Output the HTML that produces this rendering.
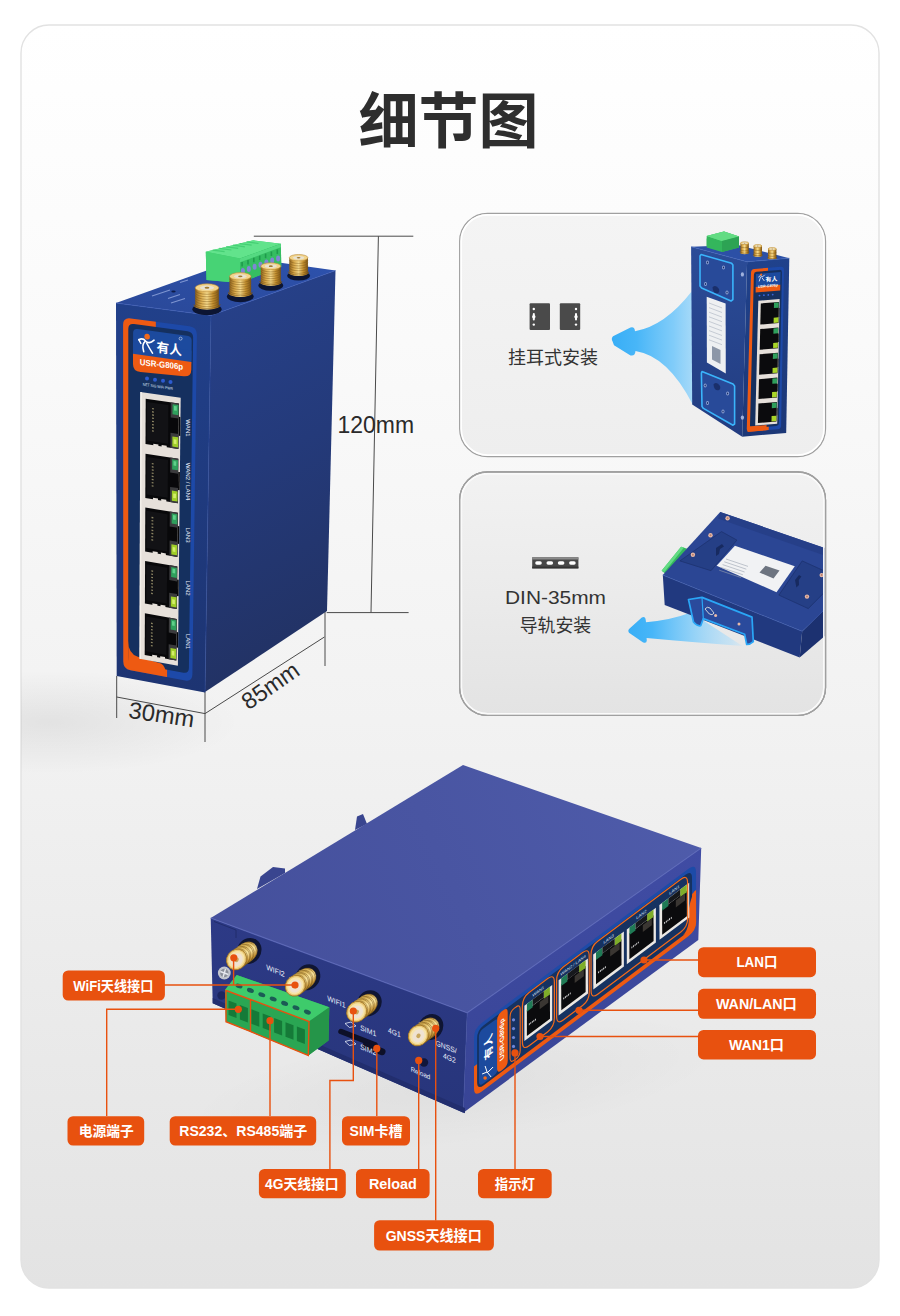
<!DOCTYPE html>
<html><head><meta charset="utf-8"><title>detail</title>
<style>
html,body{margin:0;padding:0;background:#fff;}
body{width:900px;height:1316px;overflow:hidden;font-family:"Liberation Sans","Noto Sans CJK SC",sans-serif;}
svg{display:block}
text{font-family:"Liberation Sans","Noto Sans CJK SC",sans-serif;}
</style></head><body>
<svg width="900" height="1316" viewBox="0 0 900 1316">
<defs>
<linearGradient id="bgm" x1="0" y1="0" x2="0" y2="1">
<stop offset="0" stop-color="#ffffff"/><stop offset=".25" stop-color="#fafafa"/><stop offset=".55" stop-color="#f2f2f2"/><stop offset="1" stop-color="#e3e3e3"/></linearGradient>
<radialGradient id="shd" cx="0.5" cy="0.5" r="0.5"><stop offset="0" stop-color="#000" stop-opacity=".065"/><stop offset="1" stop-color="#000" stop-opacity="0"/></radialGradient>
<linearGradient id="p1" x1="0" y1="0" x2="0" y2="1"><stop offset="0" stop-color="#f4f4f4"/><stop offset="1" stop-color="#eeeeee"/></linearGradient>
<linearGradient id="p2" x1="0" y1="0" x2="0" y2="1"><stop offset="0" stop-color="#f2f2f2"/><stop offset=".5" stop-color="#ebebeb"/><stop offset="1" stop-color="#e3e3e3"/></linearGradient>
</defs>
<rect x="0" y="0" width="900" height="1316" fill="#fff"/>
<rect x="21" y="25" width="858" height="1263" rx="28" fill="url(#bgm)" stroke="#e2e2e2" stroke-width="1.4"/>
<clipPath id="cpm"><rect x="21" y="25" width="858" height="1263" rx="28"/></clipPath>
<g clip-path="url(#cpm)"><ellipse cx="50" cy="722" rx="190" ry="52" fill="url(#shd)"/></g>
<text id="title" x="448.5" y="143" text-anchor="middle" font-size="60" font-weight="bold" fill="#2e2e2e" textLength="180" lengthAdjust="spacing">细节图</text>
<rect x="459.7" y="213.3" width="365.8" height="243.4" rx="28" fill="url(#p1)" stroke="#a0a0a0" stroke-width="1.3"/>
<rect x="461.2" y="214.8" width="362.8" height="240.4" rx="26.5" fill="none" stroke="#fff" stroke-width="1.7" stroke-opacity="1"/>
<rect x="459.7" y="472" width="365.8" height="243.4" rx="28" fill="url(#p2)" stroke="#a0a0a0" stroke-width="1.3"/>
<rect x="461.2" y="473.5" width="362.8" height="240.4" rx="26.5" fill="none" stroke="#fff" stroke-width="1.7" stroke-opacity="1"/>
<defs>
<linearGradient id="mside" x1="0" y1="0" x2="0.15" y2="1"><stop offset="0" stop-color="#27428c"/><stop offset=".5" stop-color="#243a7a"/><stop offset="1" stop-color="#223264"/></linearGradient>
<linearGradient id="mfront" x1="0" y1="0" x2="0" y2="1"><stop offset="0" stop-color="#21408a"/><stop offset="1" stop-color="#1d3472"/></linearGradient>
<linearGradient id="mtop" x1="0" y1="1" x2="1" y2="0"><stop offset="0" stop-color="#2a4897"/><stop offset="1" stop-color="#2d52ae"/></linearGradient>
</defs>
<path d="M253.8 236.2H413.3M378.4 236.2L371 612.6M326.7 612.6H408.6" stroke="#4a4a4a" stroke-width="1" fill="none"/>
<path d="M116.7 676V718M205 692V742M325 611V666M116.7 697L205 713.6L324.4 637" stroke="#4a4a4a" stroke-width="1" fill="none"/>
<polygon points="116.0,303.0 211.0,315.5 335.5,270.5 243.0,257.5" fill="url(#mtop)" />
<polygon points="211.0,315.5 335.5,270.5 327.0,611.0 205.0,692.0" fill="url(#mside)" />
<polygon points="116.0,303.0 211.0,315.5 205.0,692.5 116.7,676.0" fill="url(#mfront)" />
<path d="M116 303L211 315.5L335.5 270.5" stroke="#3a5bb8" stroke-width="1" fill="none" stroke-opacity=".7"/>
<path d="M211 315.5L205 692.5" stroke="#2c4a9c" stroke-width="1" fill="none" stroke-opacity=".6"/>
<polygon points="205.8,251.7 253.3,240.3 280.8,243.7 281.3,266.7 240.0,283.0 206.5,280.0" fill="#3cc96a" />
<polygon points="205.8,251.7 253.3,240.3 280.8,243.7 240.0,258.5" fill="#62e38c" />
<polygon points="205.8,251.7 240.0,258.5 240.0,283.0 206.5,280.0" fill="#47d375" />
<polygon points="240.0,258.5 280.8,243.7 281.3,266.7 240.0,283.0" fill="#35bd62" />
<polygon points="240.0,258.5 280.8,243.7 280.9,247.2 240.0,262.3" fill="#55d982" />
<path d="M242.1 262.0l0 4.5" stroke="#1f9a4c" stroke-width="1.6"/>
<ellipse cx="242.9" cy="271.0" rx="2" ry="3" fill="#7f86d4"/>
<path d="M248.0 259.9l0 4.5" stroke="#1f9a4c" stroke-width="1.6"/>
<ellipse cx="248.8" cy="268.9" rx="2" ry="3" fill="#7f86d4"/>
<path d="M253.8 257.8l0 4.5" stroke="#1f9a4c" stroke-width="1.6"/>
<ellipse cx="254.6" cy="266.8" rx="2" ry="3" fill="#7f86d4"/>
<path d="M259.7 255.7l0 4.5" stroke="#1f9a4c" stroke-width="1.6"/>
<ellipse cx="260.5" cy="264.7" rx="2" ry="3" fill="#7f86d4"/>
<path d="M265.6 253.6l0 4.5" stroke="#1f9a4c" stroke-width="1.6"/>
<ellipse cx="266.4" cy="262.6" rx="2" ry="3" fill="#7f86d4"/>
<path d="M271.4 251.5l0 4.5" stroke="#1f9a4c" stroke-width="1.6"/>
<ellipse cx="272.2" cy="260.5" rx="2" ry="3" fill="#7f86d4"/>
<path d="M277.3 249.4l0 4.5" stroke="#1f9a4c" stroke-width="1.6"/>
<ellipse cx="278.1" cy="258.4" rx="2" ry="3" fill="#7f86d4"/>
<path d="M212.6 250.1l12 1.6" stroke="#45cf74" stroke-width="1.2"/>
<path d="M219.4 248.4l12 1.6" stroke="#45cf74" stroke-width="1.2"/>
<path d="M226.2 246.8l12 1.6" stroke="#45cf74" stroke-width="1.2"/>
<path d="M232.9 245.2l12 1.6" stroke="#45cf74" stroke-width="1.2"/>
<path d="M239.7 243.6l12 1.6" stroke="#45cf74" stroke-width="1.2"/>
<path d="M246.5 241.9l12 1.6" stroke="#45cf74" stroke-width="1.2"/>
<path d="M152 296l18 -6M171 303l14 -4.5M168 298.5l12 -4M180 282.5l8 -2.5" stroke="#9fb2e6" stroke-width="1.3" stroke-opacity=".7"/>
<ellipse cx="173.5" cy="291.5" rx="2.2" ry="1.1" fill="#0e1c48"/>
<path d="M130.7 318.4L189.5 326.2Q197.0 327.2 196.9 334.8L192.4 674.3Q192.3 681.8 185.2 680.5L130.4 670.3Q123.3 669.0 123.3 661.6L123.1 324.8Q123.1 317.4 130.7 318.4Z" fill="#1d49a8"/>
<clipPath id="oc"><polygon points="116.0,303.0 155.9,308.2 155.8,334.5 129.3,330.9 129.1,652.2 167.2,659.1 167.0,685.4 116.7,676.0"/></clipPath>
<path d="M130.7 318.4L189.5 326.2Q197.0 327.2 196.9 334.8L192.4 674.3Q192.3 681.8 185.2 680.5L130.4 670.3Q123.3 669.0 123.3 661.6L123.1 324.8Q123.1 317.4 130.7 318.4Z" fill="#ee5a12" clip-path="url(#oc)"/>
<path d="M134.0 324.1L187.5 331.2Q193.2 332.0 193.1 337.6L188.9 668.0Q188.9 673.6 183.5 672.7L133.5 663.4Q128.2 662.5 128.2 656.9L128.3 328.9Q128.3 323.3 134.0 324.1Z" fill="#15305f"/>
<path d="M128.2 640.8Q128.2 653.9 137.9 656.8L161.0 663.6Q165.9 666.4 166.2 675.9L128.2 668.8Z" fill="#ee5a12"/>
<path d="M137.8 329.1L187.0 335.7Q191.7 336.3 191.7 340.8L191.4 359.3Q191.4 363.8 186.7 363.1L137.7 356.4Q133.0 355.7 133.0 351.2L133.1 332.9Q133.1 328.4 137.8 329.1Z" fill="#1c4a9e"/>
<polygon points="133.0,342.6 191.5,350.6 191.4,363.8 133.0,355.7" fill="#1c4a9e" />
<path d="M133.0 353.8L191.4 361.9L191.3 369.4Q191.2 377.0 183.7 376.3L140.5 372.1Q133.0 371.4 133.0 364.3Z" fill="#ee5a12"/>
<text transform="matrix(1 0.14 0 1 156.6 351.8)" x="0" y="0" font-size="13" font-weight="bold" fill="#fff" textLength="25.4" lengthAdjust="spacingAndGlyphs">有人</text>
<circle cx="180.6" cy="338.6" r="1.5" fill="none" stroke="#fff" stroke-width=".5"/>
<g transform="matrix(1.22 0.17 0 1.25 137.6 332.6)" fill="none" stroke="#fff" stroke-width="1.3" stroke-linecap="round" stroke-linejoin="round"><circle cx="7.8" cy="2.2" r="2.3" fill="#f26a1b" stroke="none"/><path d="M1 5.5Q4.5 3.5 6.5 5.8Q9 8.5 13.5 4.2"/><path d="M6.2 6.2Q3.2 9 5 14.5"/><path d="M7.5 7.5Q9.5 11 12.2 14.8"/><path d="M1 5.5L2.6 8.2"/></g>
<text transform="matrix(1 0.11 0 1 139.3 365.0)" x="0.5" y="0" font-size="8.7" font-weight="bold" fill="#fff" textLength="43.3" lengthAdjust="spacingAndGlyphs">USR-G806p</text>
<circle cx="147" cy="378.6" r="2" fill="#2d5bd0"/>
<circle cx="155" cy="379.7" r="2" fill="#2d5bd0"/>
<circle cx="163" cy="380.8" r="2" fill="#2d5bd0"/>
<circle cx="170.5" cy="381.9" r="2" fill="#2d5bd0"/>
<text transform="matrix(1 0.15 0 1 142.3 385.6)" x="0.4" y="0" font-size="4" fill="#dfe6f7" textLength="30.3" lengthAdjust="spacingAndGlyphs">NET SIG WiFi PWR</text>
<polygon points="140.3,391.9 180.7,397.7 177.9,665.8 139.5,658.8" fill="#e6e0da" />
<polygon points="140.3,391.9 141.9,392.1 141.0,659.0 139.5,658.8" fill="#f4f0ea" />
<polygon points="145.7,398.8 178.9,403.6 178.4,449.0 145.5,444.0" fill="#08080a" />
<polygon points="178.8,416.7 180.4,417.0 180.3,436.1 178.6,435.8" fill="#08080a" />
<polygon points="147.0,402.0 168.4,405.1 168.1,443.7 146.8,440.5" fill="#121215" />
<polygon points="152.1,408.0 153.9,408.2 153.9,409.5 152.1,409.3" fill="#8b8463" />
<polygon points="152.1,411.1 153.9,411.4 153.9,412.7 152.0,412.5" fill="#8b8463" />
<polygon points="152.0,414.3 153.9,414.6 153.9,415.9 152.0,415.6" fill="#8b8463" />
<polygon points="152.0,417.5 153.9,417.8 153.9,419.1 152.0,418.8" fill="#8b8463" />
<polygon points="152.0,420.7 153.9,421.0 153.9,422.3 152.0,422.0" fill="#8b8463" />
<polygon points="152.0,423.9 153.9,424.2 153.8,425.5 152.0,425.2" fill="#8b8463" />
<polygon points="152.0,427.1 153.8,427.3 153.8,428.7 152.0,428.4" fill="#8b8463" />
<polygon points="152.0,430.2 153.8,430.5 153.8,431.8 152.0,431.6" fill="#8b8463" />
<polygon points="170.8,402.4 178.9,403.6 178.8,418.6 170.7,417.4" fill="#3b3b3d" />
<polygon points="170.5,432.7 178.6,433.9 178.4,449.0 170.4,447.8" fill="#3b3b3d" />
<polygon points="172.6,404.2 178.5,405.0 178.4,415.2 172.5,414.3" fill="#2f9f5c" />
<polygon points="174.0,405.9 176.8,406.3 176.8,410.8 174.0,410.4" fill="#5fd08a" />
<polygon points="172.4,436.4 178.2,437.3 178.1,447.4 172.3,446.5" fill="#9fce28" />
<polygon points="173.7,439.2 176.5,439.7 176.5,444.2 173.7,443.7" fill="#d3ee6a" />
<polygon points="153.3,443.7 158.4,444.4 158.4,447.4 153.3,446.7" fill="#e6e0da" />
<polygon points="161.6,444.9 166.7,445.7 166.7,448.7 161.6,447.9" fill="#e6e0da" />
<polygon points="145.5,453.7 178.3,458.7 177.9,503.2 145.3,498.0" fill="#08080a" />
<polygon points="178.2,471.9 179.9,472.1 179.7,490.3 178.0,490.0" fill="#08080a" />
<polygon points="146.7,456.9 168.0,460.1 167.7,497.8 146.6,494.4" fill="#121215" />
<polygon points="151.8,462.9 153.6,463.2 153.6,464.5 151.8,464.2" fill="#8b8463" />
<polygon points="151.8,466.1 153.6,466.4 153.6,467.7 151.8,467.4" fill="#8b8463" />
<polygon points="151.8,469.3 153.6,469.6 153.6,470.9 151.8,470.6" fill="#8b8463" />
<polygon points="151.7,472.5 153.6,472.7 153.6,474.1 151.7,473.8" fill="#8b8463" />
<polygon points="151.7,475.6 153.6,475.9 153.6,477.2 151.7,477.0" fill="#8b8463" />
<polygon points="151.7,478.8 153.6,479.1 153.5,480.4 151.7,480.1" fill="#8b8463" />
<polygon points="151.7,482.0 153.5,482.3 153.5,483.6 151.7,483.3" fill="#8b8463" />
<polygon points="151.7,485.2 153.5,485.5 153.5,486.8 151.7,486.5" fill="#8b8463" />
<polygon points="170.3,457.5 178.3,458.7 178.2,473.7 170.2,472.5" fill="#3b3b3d" />
<polygon points="170.1,486.9 178.1,488.1 177.9,503.2 169.9,501.9" fill="#3b3b3d" />
<polygon points="172.1,459.3 178.0,460.2 177.9,470.3 172.1,469.4" fill="#2f9f5c" />
<polygon points="173.5,461.0 176.3,461.4 176.2,465.9 173.5,465.5" fill="#5fd08a" />
<polygon points="171.9,490.5 177.6,491.4 177.5,501.6 171.8,500.7" fill="#9fce28" />
<polygon points="173.2,493.4 176.0,493.8 175.9,498.3 173.2,497.9" fill="#d3ee6a" />
<polygon points="153.0,497.7 158.0,498.5 158.0,501.5 153.0,500.7" fill="#e6e0da" />
<polygon points="161.2,499.0 166.3,499.8 166.3,502.8 161.2,502.0" fill="#e6e0da" />
<polygon points="145.3,507.6 177.8,512.8 177.4,556.9 145.1,551.5" fill="#08080a" />
<polygon points="177.7,526.0 179.3,526.2 179.1,544.0 177.5,543.7" fill="#08080a" />
<polygon points="146.5,510.8 167.5,514.2 167.2,551.4 146.4,548.0" fill="#121215" />
<polygon points="151.5,516.8 153.4,517.1 153.3,518.4 151.5,518.2" fill="#8b8463" />
<polygon points="151.5,520.0 153.3,520.3 153.3,521.6 151.5,521.3" fill="#8b8463" />
<polygon points="151.5,523.2 153.3,523.5 153.3,524.8 151.5,524.5" fill="#8b8463" />
<polygon points="151.5,526.4 153.3,526.7 153.3,528.0 151.5,527.7" fill="#8b8463" />
<polygon points="151.5,529.6 153.3,529.9 153.3,531.2 151.5,530.9" fill="#8b8463" />
<polygon points="151.4,532.8 153.3,533.1 153.3,534.4 151.4,534.1" fill="#8b8463" />
<polygon points="151.4,535.9 153.2,536.2 153.2,537.6 151.4,537.3" fill="#8b8463" />
<polygon points="151.4,539.1 153.2,539.4 153.2,540.7 151.4,540.4" fill="#8b8463" />
<polygon points="169.8,511.5 177.8,512.8 177.6,527.8 169.7,526.5" fill="#3b3b3d" />
<polygon points="169.6,540.5 177.5,541.8 177.4,556.9 169.5,555.6" fill="#3b3b3d" />
<polygon points="171.7,513.3 177.4,514.3 177.3,524.4 171.6,523.5" fill="#2f9f5c" />
<polygon points="173.0,515.0 175.8,515.5 175.7,520.0 173.0,519.6" fill="#5fd08a" />
<polygon points="171.4,544.2 177.1,545.2 177.0,555.3 171.3,554.4" fill="#9fce28" />
<polygon points="172.7,547.1 175.4,547.5 175.4,552.0 172.7,551.6" fill="#d3ee6a" />
<polygon points="152.7,551.3 157.7,552.1 157.7,555.1 152.7,554.3" fill="#e6e0da" />
<polygon points="160.9,552.6 165.9,553.5 165.8,556.5 160.9,555.6" fill="#e6e0da" />
<polygon points="145.1,561.0 177.3,566.4 176.8,609.1 144.9,603.5" fill="#08080a" />
<polygon points="177.1,579.6 178.7,579.8 178.6,596.2 177.0,595.9" fill="#08080a" />
<polygon points="146.3,564.2 167.1,567.7 166.8,603.6 146.2,600.0" fill="#121215" />
<polygon points="151.3,570.3 153.1,570.6 153.1,571.9 151.3,571.6" fill="#8b8463" />
<polygon points="151.2,573.5 153.0,573.8 153.0,575.1 151.2,574.8" fill="#8b8463" />
<polygon points="151.2,576.7 153.0,577.0 153.0,578.3 151.2,578.0" fill="#8b8463" />
<polygon points="151.2,579.8 153.0,580.1 153.0,581.5 151.2,581.2" fill="#8b8463" />
<polygon points="151.2,583.0 153.0,583.3 153.0,584.6 151.2,584.3" fill="#8b8463" />
<polygon points="151.2,586.2 153.0,586.5 153.0,587.8 151.2,587.5" fill="#8b8463" />
<polygon points="151.2,589.4 153.0,589.7 153.0,591.0 151.2,590.7" fill="#8b8463" />
<polygon points="151.1,592.6 152.9,592.9 152.9,594.2 151.1,593.9" fill="#8b8463" />
<polygon points="169.4,565.1 177.3,566.4 177.1,581.4 169.3,580.1" fill="#3b3b3d" />
<polygon points="169.2,592.7 177.0,594.0 176.8,609.1 169.0,607.7" fill="#3b3b3d" />
<polygon points="171.2,566.9 176.9,567.9 176.8,578.0 171.1,577.0" fill="#2f9f5c" />
<polygon points="172.5,568.6 175.2,569.1 175.2,573.6 172.5,573.1" fill="#5fd08a" />
<polygon points="170.9,596.4 176.6,597.3 176.5,607.5 170.8,606.5" fill="#9fce28" />
<polygon points="172.2,599.2 174.9,599.7 174.9,604.2 172.2,603.7" fill="#d3ee6a" />
<polygon points="152.4,603.3 157.4,604.2 157.4,607.2 152.4,606.3" fill="#e6e0da" />
<polygon points="160.5,604.7 165.4,605.6 165.4,608.6 160.5,607.7" fill="#e6e0da" />
<polygon points="144.9,613.3 176.7,618.9 176.3,660.6 144.7,654.9" fill="#08080a" />
<polygon points="176.6,632.0 178.2,632.3 178.0,647.8 176.4,647.5" fill="#08080a" />
<polygon points="146.1,616.5 166.7,620.1 166.4,655.1 146.0,651.3" fill="#121215" />
<polygon points="151.0,622.6 152.8,622.9 152.8,624.2 151.0,623.9" fill="#8b8463" />
<polygon points="151.0,625.8 152.8,626.1 152.8,627.4 151.0,627.1" fill="#8b8463" />
<polygon points="151.0,629.0 152.7,629.3 152.7,630.6 151.0,630.3" fill="#8b8463" />
<polygon points="150.9,632.2 152.7,632.5 152.7,633.8 150.9,633.5" fill="#8b8463" />
<polygon points="150.9,635.3 152.7,635.7 152.7,637.0 150.9,636.7" fill="#8b8463" />
<polygon points="150.9,638.5 152.7,638.9 152.7,640.2 150.9,639.8" fill="#8b8463" />
<polygon points="150.9,641.7 152.7,642.0 152.7,643.3 150.9,643.0" fill="#8b8463" />
<polygon points="150.9,644.9 152.7,645.2 152.7,646.5 150.9,646.2" fill="#8b8463" />
<polygon points="168.9,617.5 176.7,618.9 176.6,633.9 168.8,632.5" fill="#3b3b3d" />
<polygon points="168.7,644.2 176.5,645.6 176.3,660.6 168.6,659.2" fill="#3b3b3d" />
<polygon points="170.7,619.3 176.4,620.3 176.3,630.5 170.6,629.5" fill="#2f9f5c" />
<polygon points="172.0,621.1 174.7,621.6 174.7,626.1 172.0,625.6" fill="#5fd08a" />
<polygon points="170.5,647.9 176.1,648.9 176.0,659.1 170.4,658.1" fill="#9fce28" />
<polygon points="171.8,650.8 174.4,651.3 174.4,655.8 171.7,655.3" fill="#d3ee6a" />
<polygon points="152.2,654.7 157.1,655.6 157.0,658.6 152.2,657.7" fill="#e6e0da" />
<polygon points="160.2,656.2 165.0,657.1 165.0,660.1 160.1,659.2" fill="#e6e0da" />
<text transform="translate(185.8 428) rotate(90)" x="0" y="0" text-anchor="middle" font-size="6.1" fill="#e6ebf8">WAN1</text>
<text transform="translate(185.8 481.5) rotate(90)" x="0" y="0" text-anchor="middle" font-size="6.1" fill="#e6ebf8">WAN2 / LAN4</text>
<text transform="translate(185.8 535) rotate(90)" x="0" y="0" text-anchor="middle" font-size="6.1" fill="#e6ebf8">LAN3</text>
<text transform="translate(185.8 588) rotate(90)" x="0" y="0" text-anchor="middle" font-size="6.1" fill="#e6ebf8">LAN2</text>
<text transform="translate(185.8 641.5) rotate(90)" x="0" y="0" text-anchor="middle" font-size="6.1" fill="#e6ebf8">LAN1</text>
<ellipse cx="298.6" cy="275.8" rx="11.5" ry="4.8" fill="#0c1533"/><linearGradient id="g164" x1="0" x2="1" y1="0" y2="0"><stop offset="0" stop-color="#8a5f1c"/><stop offset=".25" stop-color="#d9a94a"/><stop offset=".5" stop-color="#f7dc8e"/><stop offset=".75" stop-color="#c4902f"/><stop offset="1" stop-color="#7a5214"/></linearGradient><path d="M289.3 257.7V272.6A9.3 3.2 0 0 0 307.9 272.6V257.7Z" fill="url(#g164)"/><path d="M289.3 260.2A9.3 3.2 0 0 0 307.9 260.2" stroke="#7a5518" stroke-opacity=".55" stroke-width=".8" fill="none"/><path d="M289.3 262.7A9.3 3.2 0 0 0 307.9 262.7" stroke="#7a5518" stroke-opacity=".55" stroke-width=".8" fill="none"/><path d="M289.3 265.1A9.3 3.2 0 0 0 307.9 265.1" stroke="#7a5518" stroke-opacity=".55" stroke-width=".8" fill="none"/><path d="M289.3 267.6A9.3 3.2 0 0 0 307.9 267.6" stroke="#7a5518" stroke-opacity=".55" stroke-width=".8" fill="none"/><path d="M289.3 270.1A9.3 3.2 0 0 0 307.9 270.1" stroke="#7a5518" stroke-opacity=".55" stroke-width=".8" fill="none"/><path d="M288.2 271.5V272.6A10.4 3.5 0 0 0 309.0 272.6V271.5A10.4 3.5 0 0 1 288.2 271.5Z" fill="url(#g164)"/><path d="M288.2 271.5A10.4 3.5 0 0 0 309.0 271.5" stroke="#6e4a10" stroke-opacity=".6" stroke-width=".8" fill="none"/><ellipse cx="298.6" cy="257.7" rx="9.3" ry="3.2" fill="#f3d58c" stroke="#b98a35" stroke-width=".6"/><ellipse cx="298.6" cy="257.7" rx="5.6" ry="1.7" fill="#e8e2d2"/><ellipse cx="298.6" cy="257.7" rx="1.9" ry="0.8" fill="#a07a30"/>
<ellipse cx="270.8" cy="285.5" rx="12.4" ry="5.2" fill="#0c1533"/><linearGradient id="g165" x1="0" x2="1" y1="0" y2="0"><stop offset="0" stop-color="#8a5f1c"/><stop offset=".25" stop-color="#d9a94a"/><stop offset=".5" stop-color="#f7dc8e"/><stop offset=".75" stop-color="#c4902f"/><stop offset="1" stop-color="#7a5214"/></linearGradient><path d="M260.8 266.2V282.1A10.0 3.4 0 0 0 280.8 282.1V266.2Z" fill="url(#g165)"/><path d="M260.8 268.5A10.0 3.4 0 0 0 280.8 268.5" stroke="#7a5518" stroke-opacity=".55" stroke-width=".8" fill="none"/><path d="M260.8 270.7A10.0 3.4 0 0 0 280.8 270.7" stroke="#7a5518" stroke-opacity=".55" stroke-width=".8" fill="none"/><path d="M260.8 273.0A10.0 3.4 0 0 0 280.8 273.0" stroke="#7a5518" stroke-opacity=".55" stroke-width=".8" fill="none"/><path d="M260.8 275.3A10.0 3.4 0 0 0 280.8 275.3" stroke="#7a5518" stroke-opacity=".55" stroke-width=".8" fill="none"/><path d="M260.8 277.6A10.0 3.4 0 0 0 280.8 277.6" stroke="#7a5518" stroke-opacity=".55" stroke-width=".8" fill="none"/><path d="M260.8 279.8A10.0 3.4 0 0 0 280.8 279.8" stroke="#7a5518" stroke-opacity=".55" stroke-width=".8" fill="none"/><path d="M259.6 281.0V282.1A11.2 3.7 0 0 0 282.0 282.1V281.0A11.2 3.7 0 0 1 259.6 281.0Z" fill="url(#g165)"/><path d="M259.6 281.0A11.2 3.7 0 0 0 282.0 281.0" stroke="#6e4a10" stroke-opacity=".6" stroke-width=".8" fill="none"/><ellipse cx="270.8" cy="266.2" rx="10.0" ry="3.4" fill="#f3d58c" stroke="#b98a35" stroke-width=".6"/><ellipse cx="270.8" cy="266.2" rx="6.0" ry="1.9" fill="#e8e2d2"/><ellipse cx="270.8" cy="266.2" rx="2.0" ry="0.9" fill="#a07a30"/>
<ellipse cx="240.3" cy="296.6" rx="13.4" ry="5.6" fill="#0c1533"/><linearGradient id="g166" x1="0" x2="1" y1="0" y2="0"><stop offset="0" stop-color="#8a5f1c"/><stop offset=".25" stop-color="#d9a94a"/><stop offset=".5" stop-color="#f7dc8e"/><stop offset=".75" stop-color="#c4902f"/><stop offset="1" stop-color="#7a5214"/></linearGradient><path d="M229.5 276.3V292.9A10.8 3.7 0 0 0 251.1 292.9V276.3Z" fill="url(#g166)"/><path d="M229.5 278.7A10.8 3.7 0 0 0 251.1 278.7" stroke="#7a5518" stroke-opacity=".55" stroke-width=".8" fill="none"/><path d="M229.5 281.0A10.8 3.7 0 0 0 251.1 281.0" stroke="#7a5518" stroke-opacity=".55" stroke-width=".8" fill="none"/><path d="M229.5 283.4A10.8 3.7 0 0 0 251.1 283.4" stroke="#7a5518" stroke-opacity=".55" stroke-width=".8" fill="none"/><path d="M229.5 285.8A10.8 3.7 0 0 0 251.1 285.8" stroke="#7a5518" stroke-opacity=".55" stroke-width=".8" fill="none"/><path d="M229.5 288.2A10.8 3.7 0 0 0 251.1 288.2" stroke="#7a5518" stroke-opacity=".55" stroke-width=".8" fill="none"/><path d="M229.5 290.5A10.8 3.7 0 0 0 251.1 290.5" stroke="#7a5518" stroke-opacity=".55" stroke-width=".8" fill="none"/><path d="M228.2 291.8V292.9A12.1 4.0 0 0 0 252.4 292.9V291.8A12.1 4.0 0 0 1 228.2 291.8Z" fill="url(#g166)"/><path d="M228.2 291.8A12.1 4.0 0 0 0 252.4 291.8" stroke="#6e4a10" stroke-opacity=".6" stroke-width=".8" fill="none"/><ellipse cx="240.3" cy="276.3" rx="10.8" ry="3.7" fill="#f3d58c" stroke="#b98a35" stroke-width=".6"/><ellipse cx="240.3" cy="276.3" rx="6.5" ry="2.0" fill="#e8e2d2"/><ellipse cx="240.3" cy="276.3" rx="2.2" ry="0.9" fill="#a07a30"/>
<ellipse cx="207" cy="309.2" rx="14.6" ry="6.1" fill="#0c1533"/><linearGradient id="g167" x1="0" x2="1" y1="0" y2="0"><stop offset="0" stop-color="#8a5f1c"/><stop offset=".25" stop-color="#d9a94a"/><stop offset=".5" stop-color="#f7dc8e"/><stop offset=".75" stop-color="#c4902f"/><stop offset="1" stop-color="#7a5214"/></linearGradient><path d="M195.2 287.8V305.2A11.8 4.0 0 0 0 218.8 305.2V287.8Z" fill="url(#g167)"/><path d="M195.2 290.3A11.8 4.0 0 0 0 218.8 290.3" stroke="#7a5518" stroke-opacity=".55" stroke-width=".8" fill="none"/><path d="M195.2 292.8A11.8 4.0 0 0 0 218.8 292.8" stroke="#7a5518" stroke-opacity=".55" stroke-width=".8" fill="none"/><path d="M195.2 295.3A11.8 4.0 0 0 0 218.8 295.3" stroke="#7a5518" stroke-opacity=".55" stroke-width=".8" fill="none"/><path d="M195.2 297.7A11.8 4.0 0 0 0 218.8 297.7" stroke="#7a5518" stroke-opacity=".55" stroke-width=".8" fill="none"/><path d="M195.2 300.2A11.8 4.0 0 0 0 218.8 300.2" stroke="#7a5518" stroke-opacity=".55" stroke-width=".8" fill="none"/><path d="M195.2 302.7A11.8 4.0 0 0 0 218.8 302.7" stroke="#7a5518" stroke-opacity=".55" stroke-width=".8" fill="none"/><path d="M193.8 304.1V305.2A13.2 4.4 0 0 0 220.2 305.2V304.1A13.2 4.4 0 0 1 193.8 304.1Z" fill="url(#g167)"/><path d="M193.8 304.1A13.2 4.4 0 0 0 220.2 304.1" stroke="#6e4a10" stroke-opacity=".6" stroke-width=".8" fill="none"/><ellipse cx="207" cy="287.8" rx="11.8" ry="4.0" fill="#f3d58c" stroke="#b98a35" stroke-width=".6"/><ellipse cx="207" cy="287.8" rx="7.1" ry="2.2" fill="#e8e2d2"/><ellipse cx="207" cy="287.8" rx="2.4" ry="1.0" fill="#a07a30"/>
<text x="337.6" y="432.8" font-size="24" textLength="76.5" lengthAdjust="spacingAndGlyphs" font-family="Liberation Sans, sans-serif" fill="#2a2a2a">120mm</text>
<text x="0" y="0" font-size="23.4" textLength="66" lengthAdjust="spacingAndGlyphs" transform="translate(127.8 717.8) rotate(8.3)" font-family="Liberation Sans, sans-serif" fill="#2a2a2a">30mm</text>
<text x="0" y="0" font-size="23.4" textLength="64" lengthAdjust="spacingAndGlyphs" transform="translate(248.6 710.6) rotate(-34.7)" font-family="Liberation Sans, sans-serif" fill="#2a2a2a">85mm</text>
<defs>
<linearGradient id="ar1" x1="612" y1="0" x2="735" y2="0" gradientUnits="userSpaceOnUse"><stop offset="0" stop-color="#38aef6"/><stop offset=".2" stop-color="#48b6f8"/><stop offset=".5" stop-color="#74c8fa" stop-opacity=".9"/><stop offset=".85" stop-color="#a8dcfc" stop-opacity=".55"/><stop offset="1" stop-color="#c4e8fd" stop-opacity=".15"/></linearGradient>
<linearGradient id="ar2" x1="628" y1="0" x2="750" y2="0" gradientUnits="userSpaceOnUse"><stop offset="0" stop-color="#38aef6"/><stop offset=".2" stop-color="#48b6f8"/><stop offset=".5" stop-color="#7ccbfa" stop-opacity=".85"/><stop offset=".85" stop-color="#a8dcfc" stop-opacity=".5"/><stop offset="1" stop-color="#c4e8fd" stop-opacity=".1"/></linearGradient>
<linearGradient id="p1l" x1="0" y1="0" x2="0" y2="1"><stop offset="0" stop-color="#2b4c98"/><stop offset="1" stop-color="#223c80"/></linearGradient>
<linearGradient id="p1f" x1="0" y1="0" x2="0" y2="1"><stop offset="0" stop-color="#20428c"/><stop offset="1" stop-color="#1c3776"/></linearGradient>
<clipPath id="cp2"><rect x="459.7" y="472" width="365.8" height="243.4" rx="28"/></clipPath>
</defs>
<rect x="529.6" y="303.3" width="20.4" height="26.7" rx="1" fill="#4a4a4a"/>
<circle cx="533.8000000000001" cy="309" r="1.2" fill="#fff"/><circle cx="533.8000000000001" cy="324.6" r="1.2" fill="#fff"/><rect x="532.8000000000001" y="313" width="2" height="7.6" rx="1" fill="#fff"/><circle cx="533.8000000000001" cy="316.8" r="1.7" fill="#fff"/>
<rect x="559.8" y="303.3" width="20.4" height="26.7" rx="1" fill="#4a4a4a"/>
<circle cx="576.0" cy="309" r="1.2" fill="#fff"/><circle cx="576.0" cy="324.6" r="1.2" fill="#fff"/><rect x="575.0" y="313" width="2" height="7.6" rx="1" fill="#fff"/><circle cx="576.0" cy="316.8" r="1.7" fill="#fff"/>
<text x="553" y="364.3" text-anchor="middle" font-size="18" fill="#333" textLength="90" lengthAdjust="spacingAndGlyphs">挂耳式安装</text>
<path d="M612.6 341.5Q610.8 338.5 613 336.2L630.5 327.6Q634.6 326.4 635 331.2Q665 326 692 291L693 405Q668 356 635.5 351Q635 356.5 630.5 355.4L614 345.3Z" fill="url(#ar1)"/>
<polygon points="706.7,236.0 724.0,231.5 739.0,236.5 739.0,246.5 722.0,250.5 706.7,246.0" fill="#34b65c" />
<polygon points="706.7,236.0 724.0,231.5 739.0,236.5 722.0,241.0" fill="#62dc83" />
<polygon points="691.1,246.7 747.1,261.8 789.3,258.2 737.8,244.9" fill="#2c50a6" />
<linearGradient id="g181" x1="0" x2="1" y1="0" y2="0"><stop offset="0" stop-color="#8a5f1c"/><stop offset=".25" stop-color="#d9a94a"/><stop offset=".5" stop-color="#f7dc8e"/><stop offset=".75" stop-color="#c4902f"/><stop offset="1" stop-color="#7a5214"/></linearGradient><path d="M768.0 249.0V258.0A4.2 1.4 0 0 0 776.4 258.0V249.0Z" fill="url(#g181)"/><path d="M768.0 252.0A4.2 1.4 0 0 0 776.4 252.0" stroke="#7a5518" stroke-opacity=".55" stroke-width=".8" fill="none"/><path d="M768.0 255.0A4.2 1.4 0 0 0 776.4 255.0" stroke="#7a5518" stroke-opacity=".55" stroke-width=".8" fill="none"/><path d="M767.5 257.0V258.0A4.7 1.6 0 0 0 776.9 258.0V257.0A4.7 1.6 0 0 1 767.5 257.0Z" fill="url(#g181)"/><path d="M767.5 257.0A4.7 1.6 0 0 0 776.9 257.0" stroke="#6e4a10" stroke-opacity=".6" stroke-width=".8" fill="none"/><ellipse cx="772.2" cy="249.0" rx="4.2" ry="1.4" fill="#f3d58c" stroke="#b98a35" stroke-width=".6"/><ellipse cx="772.2" cy="249.0" rx="2.5" ry="0.8" fill="#e8e2d2"/><ellipse cx="772.2" cy="249.0" rx="0.8" ry="0.4" fill="#a07a30"/>
<linearGradient id="g182" x1="0" x2="1" y1="0" y2="0"><stop offset="0" stop-color="#8a5f1c"/><stop offset=".25" stop-color="#d9a94a"/><stop offset=".5" stop-color="#f7dc8e"/><stop offset=".75" stop-color="#c4902f"/><stop offset="1" stop-color="#7a5214"/></linearGradient><path d="M753.6 246.0V255.2A4.2 1.4 0 0 0 762.0 255.2V246.0Z" fill="url(#g182)"/><path d="M753.6 249.1A4.2 1.4 0 0 0 762.0 249.1" stroke="#7a5518" stroke-opacity=".55" stroke-width=".8" fill="none"/><path d="M753.6 252.1A4.2 1.4 0 0 0 762.0 252.1" stroke="#7a5518" stroke-opacity=".55" stroke-width=".8" fill="none"/><path d="M753.1 254.2V255.2A4.7 1.6 0 0 0 762.5 255.2V254.2A4.7 1.6 0 0 1 753.1 254.2Z" fill="url(#g182)"/><path d="M753.1 254.2A4.7 1.6 0 0 0 762.5 254.2" stroke="#6e4a10" stroke-opacity=".6" stroke-width=".8" fill="none"/><ellipse cx="757.8" cy="246.0" rx="4.2" ry="1.4" fill="#f3d58c" stroke="#b98a35" stroke-width=".6"/><ellipse cx="757.8" cy="246.0" rx="2.5" ry="0.8" fill="#e8e2d2"/><ellipse cx="757.8" cy="246.0" rx="0.8" ry="0.4" fill="#a07a30"/>
<linearGradient id="g183" x1="0" x2="1" y1="0" y2="0"><stop offset="0" stop-color="#8a5f1c"/><stop offset=".25" stop-color="#d9a94a"/><stop offset=".5" stop-color="#f7dc8e"/><stop offset=".75" stop-color="#c4902f"/><stop offset="1" stop-color="#7a5214"/></linearGradient><path d="M740.4 243.2V252.6A4.2 1.4 0 0 0 748.8 252.6V243.2Z" fill="url(#g183)"/><path d="M740.4 246.3A4.2 1.4 0 0 0 748.8 246.3" stroke="#7a5518" stroke-opacity=".55" stroke-width=".8" fill="none"/><path d="M740.4 249.5A4.2 1.4 0 0 0 748.8 249.5" stroke="#7a5518" stroke-opacity=".55" stroke-width=".8" fill="none"/><path d="M739.9 251.6V252.6A4.7 1.6 0 0 0 749.3 252.6V251.6A4.7 1.6 0 0 1 739.9 251.6Z" fill="url(#g183)"/><path d="M739.9 251.6A4.7 1.6 0 0 0 749.3 251.6" stroke="#6e4a10" stroke-opacity=".6" stroke-width=".8" fill="none"/><ellipse cx="744.6" cy="243.2" rx="4.2" ry="1.4" fill="#f3d58c" stroke="#b98a35" stroke-width=".6"/><ellipse cx="744.6" cy="243.2" rx="2.5" ry="0.8" fill="#e8e2d2"/><ellipse cx="744.6" cy="243.2" rx="0.8" ry="0.4" fill="#a07a30"/>
<polygon points="706.7,238.5 722.0,243.0 739.0,238.5 739.0,247.5 722.0,252.0 706.7,247.5" fill="#34b65c" />
<polygon points="706.7,236.0 724.0,231.5 739.0,236.5 722.0,241.0" fill="#62dc83" />
<polygon points="722.0,241.0 739.0,236.5 739.0,247.5 722.0,252.0" fill="#2da354" />
<polygon points="691.1,246.7 747.1,261.8 742.2,436.7 692.2,404.4" fill="url(#p1l)" />
<polygon points="747.1,261.8 789.3,258.2 786.2,432.9 742.2,436.7" fill="url(#p1f)" />
<path d="M691.1 246.7L747.1 261.8L789.3 258.2" stroke="#4266bf" stroke-width=".8" fill="none" stroke-opacity=".8"/>
<path d="M701.0 254.6L731.6 263.2L732.9 265.0L732.9 299.6L731.0 301.0L701.6 288.0L700.0 286.0L700.0 256.0Z" fill="#284a99" stroke="#3ab4fb" stroke-width="1.6" stroke-linejoin="round"/>
<path d="M702.0 371.6L733.0 384.0L734.6 386.0L734.6 424.0L733.0 425.2L703.4 408.4L702.0 406.6L701.4 373.0Z" fill="#284a99" stroke="#3ab4fb" stroke-width="1.6" stroke-linejoin="round"/>
<ellipse cx="707.5" cy="262.5" rx="1.5" ry="2" fill="#8ea3d6"/><ellipse cx="707.5" cy="262.5" rx=".7" ry="1" fill="#1a2f66"/>
<ellipse cx="723.5" cy="267.5" rx="1.5" ry="2" fill="#8ea3d6"/><ellipse cx="723.5" cy="267.5" rx=".7" ry="1" fill="#1a2f66"/>
<ellipse cx="705.5" cy="284" rx="1.5" ry="2" fill="#8ea3d6"/><ellipse cx="705.5" cy="284" rx=".7" ry="1" fill="#1a2f66"/>
<ellipse cx="727" cy="292.5" rx="1.5" ry="2" fill="#8ea3d6"/><ellipse cx="727" cy="292.5" rx=".7" ry="1" fill="#1a2f66"/>
<ellipse cx="707.5" cy="403" rx="1.5" ry="2" fill="#8ea3d6"/><ellipse cx="707.5" cy="403" rx=".7" ry="1" fill="#1a2f66"/>
<ellipse cx="723" cy="411.5" rx="1.5" ry="2" fill="#8ea3d6"/><ellipse cx="723" cy="411.5" rx=".7" ry="1" fill="#1a2f66"/>
<ellipse cx="705.2" cy="385.6" rx="1.5" ry="2" fill="#8ea3d6"/><ellipse cx="705.2" cy="385.6" rx=".7" ry="1" fill="#1a2f66"/>
<ellipse cx="727.6" cy="393.6" rx="1.5" ry="2" fill="#8ea3d6"/><ellipse cx="727.6" cy="393.6" rx=".7" ry="1" fill="#1a2f66"/>
<path d="M712.5 287.2q3.5 -3 6.5 1.8q1 3.6 -1.6 4.2q-4.4 0.6 -4.9 -6Z" fill="#1a2f6b"/>
<path d="M713.5 384.2q3.5 -3 6.5 1.8q1 3.6 -1.6 4.2q-4.4 0.6 -4.9 -6Z" fill="#1a2f6b"/>
<polygon points="706.7,296.7 725.6,303.6 725.8,373.6 706.9,362.4" fill="#eef0f2" />
<polygon points="712.0,346.0 720.5,350.0 720.5,364.0 712.0,359.5" fill="#8d97a8" />
<path d="M709 303.0l13 4.9" stroke="#aab2c0" stroke-width=".6"/>
<path d="M709 307.6l13 4.9" stroke="#aab2c0" stroke-width=".6"/>
<path d="M709 312.2l13 4.9" stroke="#aab2c0" stroke-width=".6"/>
<path d="M709 316.8l13 4.9" stroke="#aab2c0" stroke-width=".6"/>
<path d="M709 321.4l13 4.9" stroke="#aab2c0" stroke-width=".6"/>
<path d="M709 326.0l13 4.9" stroke="#aab2c0" stroke-width=".6"/>
<path d="M709 330.6l13 4.9" stroke="#aab2c0" stroke-width=".6"/>
<path d="M709 335.2l13 4.9" stroke="#aab2c0" stroke-width=".6"/>
<path d="M709 339.8l13 4.9" stroke="#aab2c0" stroke-width=".6"/>
<ellipse cx="742.4" cy="274.4" rx="1.6" ry="2.2" fill="#9fb1dc"/><ellipse cx="742.4" cy="417.6" rx="1.6" ry="2.2" fill="#9fb1dc"/>
<path d="M754.5 269.0L780.7 266.8Q784.1 266.5 784.0 270.0L781.1 425.5Q781.0 429.0 777.5 429.3L750.2 431.6Q746.7 431.9 746.8 428.5L751.0 272.8Q751.1 269.3 754.5 269.0Z" fill="#1d49a8"/>
<clipPath id="oc1"><polygon points="747.1,261.8 768.2,260.0 767.9,274.0 755.2,275.1 751.3,423.7 768.9,422.2 768.6,434.4 742.2,436.7"/></clipPath>
<path d="M754.5 269.0L780.7 266.8Q784.1 266.5 784.0 270.0L781.1 425.5Q781.0 429.0 777.5 429.3L750.2 431.6Q746.7 431.9 746.8 428.5L751.0 272.8Q751.1 269.3 754.5 269.0Z" fill="#ee5a12" clip-path="url(#oc1)"/>
<path d="M756.5 271.8L779.4 269.9Q781.9 269.6 781.9 272.3L778.9 423.1Q778.9 425.7 776.2 425.9L752.5 428.0Q749.9 428.2 750.0 425.6L753.9 274.7Q754.0 272.0 756.5 271.8Z" fill="#15305f"/>
<polygon points="747.7,426.6 766.6,425.0 766.5,430.2 747.6,431.9" fill="#ee5a12" />
<polygon points="756.0,274.1 780.6,272.0 780.3,285.1 755.7,287.2" fill="#1c4a9e" />
<polygon points="755.7,286.9 780.3,284.8 780.2,290.4 755.6,292.5" fill="#ee5a12" />
<text transform="matrix(1 -0.08 0 1 765.5 281.8)" x="0" y="0" font-size="6" font-weight="bold" fill="#fff" textLength="11.9" lengthAdjust="spacingAndGlyphs">有人</text>
<path d="M758.3 277.2l2 -1.6l2.4 1.2l2 -2M760.6 276.8l-1.4 4.6M761.8 277.6l2.6 3.4" stroke="#fff" stroke-width=".8" fill="none"/><circle cx="761.2" cy="274.6" r="1.1" fill="#f26a1b"/>
<text transform="matrix(1 -0.08 0 1 757.6 287.9)" x="0.3" y="0" font-size="3.8" font-weight="bold" fill="#fff" textLength="20.1" lengthAdjust="spacingAndGlyphs">USR-G806p</text>
<circle cx="759.5" cy="295.6" r=".9" fill="#3a66dd"/>
<circle cx="763.9" cy="295.2" r=".9" fill="#3a66dd"/>
<circle cx="768.3" cy="294.9" r=".9" fill="#3a66dd"/>
<circle cx="772.7" cy="294.6" r=".9" fill="#3a66dd"/>
<polygon points="758.3,300.8 779.6,299.0 777.2,423.7 755.2,425.5" fill="#e6e0da" />
<polygon points="760.8,303.4 778.9,301.9 778.5,323.0 760.3,324.6" fill="#0b0b0d" />
<polygon points="778.8,308.0 779.5,308.0 779.3,316.8 778.6,316.9" fill="#0b0b0d" />
<polygon points="774.0,302.8 778.7,302.4 778.6,307.7 773.9,308.1" fill="#2f9f5c" />
<polygon points="773.7,317.7 778.4,317.3 778.3,322.5 773.6,322.9" fill="#a8d428" />
<polygon points="760.2,329.1 778.4,327.5 778.0,348.2 759.7,349.8" fill="#0b0b0d" />
<polygon points="778.3,333.6 779.0,333.6 778.8,342.0 778.1,342.1" fill="#0b0b0d" />
<polygon points="773.5,328.5 778.2,328.1 778.1,333.3 773.4,333.7" fill="#2f9f5c" />
<polygon points="773.2,342.9 777.9,342.5 777.8,347.7 773.1,348.1" fill="#a8d428" />
<polygon points="759.6,354.3 777.9,352.7 777.5,373.2 759.1,374.8" fill="#0b0b0d" />
<polygon points="777.8,358.8 778.5,358.8 778.3,367.0 777.6,367.1" fill="#0b0b0d" />
<polygon points="773.0,353.6 777.7,353.2 777.6,358.5 772.8,358.9" fill="#2f9f5c" />
<polygon points="772.6,367.9 777.4,367.4 777.3,372.7 772.5,373.1" fill="#a8d428" />
<polygon points="759.0,379.2 777.4,377.6 777.0,397.5 758.5,399.1" fill="#0b0b0d" />
<polygon points="777.3,383.7 778.0,383.7 777.8,391.3 777.2,391.3" fill="#0b0b0d" />
<polygon points="772.4,378.6 777.2,378.2 777.1,383.4 772.3,383.8" fill="#2f9f5c" />
<polygon points="772.1,392.1 776.9,391.7 776.8,397.0 772.0,397.4" fill="#a8d428" />
<polygon points="758.4,403.6 776.9,402.0 776.5,421.5 757.9,423.1" fill="#0b0b0d" />
<polygon points="776.8,408.2 777.5,408.1 777.3,415.3 776.7,415.3" fill="#0b0b0d" />
<polygon points="771.9,403.0 776.7,402.6 776.6,407.8 771.8,408.2" fill="#2f9f5c" />
<polygon points="771.6,416.1 776.4,415.7 776.3,420.9 771.5,421.4" fill="#a8d428" />
<ellipse cx="744.6" cy="445.5" rx="3" ry="4" fill="#3b62bd" opacity="0"/>
<rect x="532.2" y="557.3" width="46.2" height="11.1" fill="#484848"/><rect x="532.2" y="557.3" width="46.2" height="2.2" fill="#8a8a8a"/><rect x="532.2" y="566.6" width="46.2" height="1.8" fill="#333"/>
<rect x="535.2" y="561.3" width="6.6" height="3.4" rx="1.7" fill="#fff"/>
<rect x="546.5" y="561.3" width="6.6" height="3.4" rx="1.7" fill="#fff"/>
<rect x="557.8" y="561.3" width="6.6" height="3.4" rx="1.7" fill="#fff"/>
<rect x="569.1" y="561.3" width="6.6" height="3.4" rx="1.7" fill="#fff"/>
<text x="505" y="603.8" font-size="19.2" textLength="101" lengthAdjust="spacingAndGlyphs" font-family="Liberation Sans, sans-serif" fill="#333">DIN-35mm</text>
<text x="555.5" y="631.8" text-anchor="middle" font-size="18" fill="#333" textLength="71.5" lengthAdjust="spacingAndGlyphs">导轨安装</text>
<g clip-path="url(#cp2)">
<path d="M629 632.8Q627.4 630.4 629.6 628.6L641.8 617.6Q645.2 615.8 645.8 620.4L646 622.2Q668 621 691 612.6L742.5 646Q690 642 646.6 638L646.8 640.4Q646.6 644 642.8 642.2Z" fill="url(#ar2)"/>
<polygon points="661.6,570.7 681.1,546.7 687.2,548.7 677.5,563.3 666.5,574.4" fill="#35b85e" />
<polygon points="661.6,570.7 681.1,546.7 684.0,547.6 664.4,572.0" fill="#62dc83" />
<polygon points="720.2,512.0 826.0,548.4 826.0,609.0 802.2,631.3 662.8,575.1" fill="#2b4694" />
<polygon points="720.2,512.0 826.0,548.4 826.0,556.0 718.0,518.5" fill="#263f88" />
<polygon points="662.8,575.1 802.2,631.3 799.7,657.5 664.7,604.9" fill="#21397f" />
<polygon points="802.2,631.3 826.0,608.0 826.0,635.0 799.7,657.5" fill="#1c3170" />
<path d="M662.8 575.1L802.2 631.3L826 608" stroke="#3e5cb0" stroke-width=".9" fill="none" stroke-opacity=".8"/>
<polygon points="679.9,560.9 721.5,531.6 736.9,540.1 711.0,570.7" fill="#253f86" stroke="#1d3270" stroke-width=".8"/>
<polygon points="778.9,595.1 802.2,560.9 826.0,571.7 826.0,590.7 808.3,608.6" fill="#253f86" stroke="#1d3270" stroke-width=".8"/>
<path d="M716 548l6 -4l2 2.4l-4 2.6l-1 5l-3 2z" fill="#172a60"/><path d="M795 580l4 -5l2.4 1.6l-2.6 3.4l.2 5l-2.6 2.6z" fill="#172a60"/>
<polygon points="716.6,565.8 734.9,545.7 794.8,566.3 776.5,592.2" fill="#f1f2f4" />
<polygon points="759.5,572.5 765.5,565.8 779.5,570.6 773.5,578.6" fill="#6d7480" />
<path d="M726.0 559.0l22 7.4" stroke="#9aa2b0" stroke-width=".6"/>
<path d="M724.3 561.8l22 7.4" stroke="#9aa2b0" stroke-width=".6"/>
<path d="M722.6 564.6l22 7.4" stroke="#9aa2b0" stroke-width=".6"/>
<path d="M720.9 567.4l22 7.4" stroke="#9aa2b0" stroke-width=".6"/>
<path d="M719.2 570.2l22 7.4" stroke="#9aa2b0" stroke-width=".6"/>
<circle cx="727.6" cy="518.3" r="2.2" fill="#e7b9a8"/><circle cx="727.6" cy="518.3" r="1" fill="#b9806c"/>
<circle cx="710.5" cy="535.2" r="2.2" fill="#e7b9a8"/><circle cx="710.5" cy="535.2" r="1" fill="#b9806c"/>
<circle cx="692.9" cy="554.8" r="2.2" fill="#e7b9a8"/><circle cx="692.9" cy="554.8" r="1" fill="#b9806c"/>
<circle cx="807" cy="596.6" r="2.2" fill="#e7b9a8"/><circle cx="807" cy="596.6" r="1" fill="#b9806c"/>
<circle cx="821.7" cy="575.1" r="2.2" fill="#e7b9a8"/><circle cx="821.7" cy="575.1" r="1" fill="#b9806c"/>
<path d="M688.5 599.5L693.5 622Q697 626.4 700.7 625.7L703.3 618.6L744.7 634.3L746.7 644.5Q750 644.6 753.3 641.6L752 617.1L702 597.4Z" fill="#2a4a9c" stroke="#2aa6f6" stroke-width="1.7" stroke-linejoin="round"/>
<path d="M702 597.4L703.3 618.6" stroke="#2aa6f6" stroke-width="1.2" fill="none"/>
<path d="M705 609q2 -3 5 -1l4 5q-1.6 3 -4.6 1z" fill="none" stroke="#cfd3da" stroke-width="1"/>
<circle cx="715.6" cy="615.6" r="1.5" fill="#e7b9a8"/><circle cx="739" cy="624" r="1.5" fill="#e7b9a8"/>
</g>
<rect x="459.7" y="472" width="365.8" height="243.4" rx="28" fill="none" stroke="#a0a0a0" stroke-width="1.3"/>
<rect x="461.3" y="473.6" width="362.6" height="240.2" rx="26.5" fill="none" stroke="#fafafa" stroke-width="1.7"/>
<rect x="459.7" y="472" width="365.8" height="243.4" rx="28" fill="none" stroke="#a0a0a0" stroke-width="1.3"/>
<defs>
<linearGradient id="btop" x1="210" y1="1000" x2="700" y2="780" gradientUnits="userSpaceOnUse"><stop offset="0" stop-color="#444f9b"/><stop offset=".5" stop-color="#4955a2"/><stop offset="1" stop-color="#4f5cab"/></linearGradient>
<linearGradient id="bleft" x1="0" y1="0" x2="0" y2="1"><stop offset="0" stop-color="#2d3a86"/><stop offset="1" stop-color="#27357b"/></linearGradient>
<linearGradient id="bright" x1="0" y1="0" x2="0" y2="1"><stop offset="0" stop-color="#404ca4"/><stop offset="1" stop-color="#384495"/></linearGradient>
<radialGradient id="bsh" cx=".5" cy=".5" r=".5"><stop offset="0" stop-color="#000" stop-opacity=".04"/><stop offset="1" stop-color="#000" stop-opacity="0"/></radialGradient>
</defs>
<ellipse cx="455" cy="1085" rx="270" ry="60" fill="url(#bsh)" transform="rotate(-8 455 1085)"/>
<polygon points="257.0,889.0 260.5,876.5 273.0,867.0 285.0,868.5 285.0,873.0" fill="#39458f" />
<polygon points="355.0,830.0 357.0,816.5 363.0,814.0 367.0,824.0" fill="#39458f" />
<polygon points="210.7,918.0 463.0,765.0 701.2,848.0 467.2,1012.8" fill="url(#btop)" />
<polygon points="210.7,918.0 467.2,1012.8 463.3,1112.7 212.7,1003.3" fill="url(#bleft)" />
<polygon points="467.2,1012.8 701.2,848.0 698.3,940.0 463.3,1112.7" fill="url(#bright)" />
<path d="M210.7 918L467.2 1012.8L701.2 848" stroke="#5a67b8" stroke-width="1.2" fill="none" stroke-opacity=".8"/>
<path d="M467.2 1012.8L463.3 1112.7" stroke="#3f4da0" stroke-width="1" fill="none" stroke-opacity=".7"/>
<polygon points="212.7,1003.3 465.0,1113.3 465.0,1108.0 212.7,998.0" fill="#222e6e" />
<path d="M214 921.5L236 930L236 938" stroke="#1d2863" stroke-width="1" fill="none" stroke-opacity=".7"/>
<path d="M481.8 1022.9L688.2 869.0Q696.0 863.2 696.0 871.9L696.2 921.8Q696.2 930.5 688.4 936.3L481.8 1091.5Q474.0 1097.3 474.0 1088.4L474.0 1037.6Q474.0 1028.7 481.8 1022.9Z" fill="#1d4ba8"/>
<clipPath id="ocb"><polygon points="469.6,1069.8 479.6,1062.3 479.6,1065.7 690.6,907.7 690.5,895.6 702.7,883.8 702.9,932.2 469.6,1107.5"/></clipPath>
<path d="M481.8 1022.9L688.2 869.0Q696.0 863.2 696.0 871.9L696.2 921.8Q696.2 930.5 688.4 936.3L481.8 1091.5Q474.0 1097.3 474.0 1088.4L474.0 1037.6Q474.0 1028.7 481.8 1022.9Z" fill="#ee5a12" clip-path="url(#ocb)"/>
<path d="M483.8 1025.2L685.4 874.8Q692.0 869.9 692.0 878.0L692.2 920.7Q692.2 928.8 685.5 933.8L483.8 1085.2Q477.1 1090.2 477.1 1081.9L477.1 1038.4Q477.1 1030.2 483.8 1025.2Z" fill="#163261"/>
<path d="M694.3 891.4Q689.0 902.2 688.6 913.3L688.6 922.7Q687.7 930.1 682.9 935.5L692.9 930.3Q696.2 925.8 695.9 920.6L695.9 890.3Z" fill="#ee5a12"/>
<path d="M483.3 1028.6L494.0 1020.7Q498.4 1017.3 498.4 1022.8L498.4 1066.6Q498.4 1072.1 494.0 1075.4L483.3 1083.4Q478.9 1086.8 478.9 1081.3L478.9 1037.4Q478.9 1031.9 483.3 1028.6Z" fill="#1c4a9e"/>
<path d="M501.5 1011.6L503.3 1010.3Q507.7 1007.0 507.7 1012.4L507.8 1060.3Q507.8 1065.8 503.3 1069.1L501.6 1070.5Q497.1 1073.8 497.1 1068.3L497.1 1020.4Q497.1 1014.9 501.5 1011.6Z" fill="#ee5a12"/>
<path d="M514.4 1008.1L515.7 1007.2Q520.2 1003.8 520.2 1009.3L520.2 1050.3Q520.2 1055.8 515.8 1059.1L514.4 1060.1Q510.0 1063.4 510.0 1058.0L510.0 1016.9Q510.0 1011.5 514.4 1008.1Z" fill="none" stroke="#f26a1b" stroke-width="1.1"/>
<circle cx="513.5" cy="1019.8" r="1.6" fill="#6f86d8"/>
<circle cx="513.5" cy="1028.6" r="1.6" fill="#6f86d8"/>
<circle cx="513.5" cy="1037.5" r="1.6" fill="#6f86d8"/>
<circle cx="513.5" cy="1046.4" r="1.6" fill="#6f86d8"/>
<polygon points="524.4,1005.8 552.2,985.1 552.2,1020.2 524.4,1041.0" fill="#ebe8e4" />
<polygon points="526.9,1009.9 549.9,992.7 550.0,1018.7 526.9,1036.0" fill="#0b0b0d" />
<polygon points="526.9,1004.0 532.7,999.6 532.7,1007.3 526.9,1011.7" fill="#1f7a55" />
<polygon points="543.8,991.3 549.9,986.8 549.9,994.5 543.8,999.0" fill="#7fae2a" />
<polygon points="532.7,999.6 543.8,991.3 543.8,997.3 532.7,1005.6" fill="#16181c" />
<polygon points="539.7,1002.1 548.3,995.7 548.3,1002.7 539.7,1009.2" fill="#3a3632" />
<polygon points="528.9,1023.6 529.7,1023.0 529.7,1024.7 528.9,1025.4" fill="#f0f0f0" />
<polygon points="530.4,1022.5 531.2,1021.8 531.2,1023.6 530.4,1024.2" fill="#f0f0f0" />
<polygon points="531.9,1021.3 532.7,1020.7 532.7,1022.4 531.9,1023.1" fill="#f0f0f0" />
<polygon points="533.4,1020.2 534.3,1019.5 534.3,1021.3 533.4,1021.9" fill="#f0f0f0" />
<polygon points="535.0,1019.0 535.8,1018.4 535.8,1020.2 535.0,1020.8" fill="#f0f0f0" />
<polygon points="558.6,980.3 587.9,958.4 588.0,993.4 558.6,1015.4" fill="#ebe8e4" />
<polygon points="561.2,984.3 585.6,966.1 585.6,992.0 561.3,1010.2" fill="#0b0b0d" />
<polygon points="561.2,978.3 567.4,973.7 567.4,981.4 561.2,986.0" fill="#1f7a55" />
<polygon points="579.1,965.0 585.6,960.2 585.6,967.9 579.1,972.7" fill="#7fae2a" />
<polygon points="567.4,973.7 579.1,965.0 579.1,970.9 567.4,979.7" fill="#16181c" />
<polygon points="574.7,976.0 583.8,969.2 583.8,976.2 574.7,983.0" fill="#3a3632" />
<polygon points="563.3,997.8 564.2,997.2 564.2,998.9 563.3,999.6" fill="#f0f0f0" />
<polygon points="564.9,996.6 565.8,996.0 565.8,997.7 564.9,998.4" fill="#f0f0f0" />
<polygon points="566.5,995.4 567.4,994.8 567.4,996.5 566.5,997.2" fill="#f0f0f0" />
<polygon points="568.2,994.2 569.0,993.5 569.0,995.3 568.2,996.0" fill="#f0f0f0" />
<polygon points="569.8,993.0 570.6,992.3 570.6,994.1 569.8,994.7" fill="#f0f0f0" />
<polygon points="593.2,954.4 623.9,931.5 623.9,966.4 593.3,989.4" fill="#ebe8e4" />
<polygon points="596.0,958.3 621.4,939.3 621.5,965.1 596.0,984.2" fill="#0b0b0d" />
<polygon points="596.0,952.4 602.4,947.6 602.4,955.2 596.0,960.1" fill="#1f7a55" />
<polygon points="614.7,938.4 621.4,933.4 621.4,941.1 614.7,946.1" fill="#7fae2a" />
<polygon points="602.4,947.6 614.7,938.4 614.7,944.3 602.4,953.5" fill="#16181c" />
<polygon points="610.1,949.5 619.6,942.4 619.6,949.4 610.1,956.5" fill="#3a3632" />
<polygon points="598.2,971.7 599.1,971.0 599.1,972.8 598.2,973.5" fill="#f0f0f0" />
<polygon points="599.9,970.5 600.8,969.8 600.8,971.5 599.9,972.2" fill="#f0f0f0" />
<polygon points="601.5,969.2 602.5,968.5 602.5,970.3 601.5,971.0" fill="#f0f0f0" />
<polygon points="603.2,968.0 604.2,967.3 604.2,969.0 603.2,969.7" fill="#f0f0f0" />
<polygon points="604.9,966.7 605.8,966.0 605.8,967.8 604.9,968.4" fill="#f0f0f0" />
<polygon points="626.8,929.4 655.9,907.7 655.9,942.5 626.8,964.3" fill="#ebe8e4" />
<polygon points="629.4,933.4 653.5,915.3 653.6,941.1 629.4,959.2" fill="#0b0b0d" />
<polygon points="629.4,927.4 635.5,922.9 635.5,930.5 629.4,935.1" fill="#1f7a55" />
<polygon points="647.1,914.2 653.5,909.4 653.5,917.1 647.1,921.8" fill="#7fae2a" />
<polygon points="635.5,922.9 647.1,914.2 647.1,920.1 635.5,928.8" fill="#16181c" />
<polygon points="642.8,925.1 651.8,918.4 651.8,925.3 642.8,932.1" fill="#3a3632" />
<polygon points="631.5,946.8 632.3,946.2 632.3,947.9 631.5,948.6" fill="#f0f0f0" />
<polygon points="633.1,945.6 633.9,945.0 633.9,946.7 633.1,947.4" fill="#f0f0f0" />
<polygon points="634.7,944.4 635.5,943.8 635.5,945.5 634.7,946.2" fill="#f0f0f0" />
<polygon points="636.3,943.2 637.1,942.6 637.1,944.3 636.3,945.0" fill="#f0f0f0" />
<polygon points="637.9,942.0 638.7,941.4 638.7,943.1 637.9,943.8" fill="#f0f0f0" />
<polygon points="659.4,905.0 689.2,882.8 689.3,917.5 659.5,939.8" fill="#ebe8e4" />
<polygon points="662.1,908.9 686.8,890.5 686.9,916.2 662.2,934.7" fill="#0b0b0d" />
<polygon points="662.1,903.0 668.3,898.4 668.4,906.0 662.1,910.7" fill="#1f7a55" />
<polygon points="680.2,889.5 686.8,884.6 686.8,892.2 680.3,897.1" fill="#7fae2a" />
<polygon points="668.3,898.4 680.2,889.5 680.2,895.4 668.3,904.3" fill="#16181c" />
<polygon points="675.8,900.4 685.0,893.6 685.0,900.5 675.8,907.4" fill="#3a3632" />
<polygon points="664.2,922.3 665.1,921.7 665.1,923.4 664.2,924.1" fill="#f0f0f0" />
<polygon points="665.9,921.1 666.7,920.4 666.8,922.2 665.9,922.8" fill="#f0f0f0" />
<polygon points="667.5,919.9 668.4,919.2 668.4,920.9 667.5,921.6" fill="#f0f0f0" />
<polygon points="669.1,918.6 670.0,918.0 670.0,919.7 669.1,920.4" fill="#f0f0f0" />
<polygon points="670.8,917.4 671.7,916.8 671.7,918.5 670.8,919.2" fill="#f0f0f0" />
<path d="M529.1 992.4L547.7 978.5Q554.4 973.6 554.4 982.4L554.4 1017.8Q554.4 1026.7 547.8 1031.7L529.1 1045.7Q522.4 1050.7 522.4 1041.8L522.4 1006.3Q522.4 997.4 529.1 992.4Z" fill="none" stroke="#f26a1b" stroke-width="1.2"/>
<path d="M563.2 966.9L582.6 952.5Q589.2 947.6 589.2 956.4L589.3 991.7Q589.3 1000.5 582.6 1005.5L563.3 1020.0Q556.6 1025.0 556.6 1016.2L556.6 980.8Q556.6 971.9 563.2 966.9Z" fill="none" stroke="#f26a1b" stroke-width="1.2"/>
<path d="M597.7 941.3L680.9 879.2Q687.6 874.2 687.6 883.0L687.7 918.0Q687.7 926.7 681.1 931.7L597.7 994.2Q591.1 999.2 591.1 990.4L591.0 955.1Q591.0 946.2 597.7 941.3Z" fill="none" stroke="#f26a1b" stroke-width="1.2"/>
<text transform="matrix(1 -0.745 0 1 538.3 992.7)" x="0" y="0" text-anchor="middle" font-size="4.1" fill="#dfe6f7">WAN1</text>
<text transform="matrix(1 -0.745 0 1 573.2 966.6)" x="0" y="0" text-anchor="middle" font-size="4.1" fill="#dfe6f7">WAN2 / LAN4</text>
<text transform="matrix(1 -0.745 0 1 608.6 940.3)" x="0" y="0" text-anchor="middle" font-size="4.1" fill="#dfe6f7">LAN3</text>
<text transform="matrix(1 -0.745 0 1 641.3 915.8)" x="0" y="0" text-anchor="middle" font-size="4.1" fill="#dfe6f7">LAN2</text>
<text transform="matrix(1 -0.745 0 1 674.3 891.2)" x="0" y="0" text-anchor="middle" font-size="4.1" fill="#dfe6f7">LAN1</text>
<text transform="translate(488.7 1046.6) matrix(0 -1 0.8 -0.6 0 0) translate(0 4)" x="0" y="0" text-anchor="middle" font-size="12" font-weight="bold" fill="#fff" textLength="23.4" lengthAdjust="spacingAndGlyphs">有人</text>
<text transform="translate(502.4 1039.7) matrix(0 -1 0.8 -0.6 0 0) translate(0 2.6)" x="0" y="0" text-anchor="middle" font-size="7.7" font-weight="bold" fill="#fff" textLength="41.3" lengthAdjust="spacingAndGlyphs">USR-G806p</text>
<circle cx="485.1" cy="1078.0" r="1.8" fill="#f26a1b"/>
<path d="M482.1 1074.0l5 -2l4 5M487.1 1072.0l-2 -6M488.1 1072.0l5 -5" stroke="#fff" stroke-width="1" fill="none"/>
<circle cx="224.3" cy="973" r="6.4" fill="#c3c6ce"/><circle cx="224.3" cy="973" r="4.2" fill="#8b8f99"/><path d="M220.3 971.5l8 3M225.5 969l-2.4 8" stroke="#e6e8ee" stroke-width="1.4"/>
<circle cx="221.5" cy="995.5" r="4.2" fill="#1c2660"/>
<ellipse cx="249.0" cy="951.0" rx="12" ry="13.5" fill="#0f1533" transform="rotate(35 249.0 951.0)"/><linearGradient id="h381" gradientUnits="objectBoundingBox" x1="0.2" y1="0" x2="0.8" y2="1"><stop offset="0" stop-color="#c9992f"/><stop offset=".3" stop-color="#f9e5a0"/><stop offset=".6" stop-color="#d2a040"/><stop offset=".85" stop-color="#8a6a20"/><stop offset="1" stop-color="#6f7a28"/></linearGradient><ellipse cx="248.0" cy="951.5" rx="9.0" ry="10.1" transform="rotate(35 248.0 951.5)" fill="url(#h381)" stroke="#6b4a12" stroke-opacity=".55" stroke-width=".7"/><ellipse cx="246.4" cy="952.6" rx="9.6" ry="10.7" transform="rotate(35 246.4 952.6)" fill="url(#h381)" stroke="#6b4a12" stroke-opacity=".55" stroke-width=".7"/><ellipse cx="244.7" cy="953.8" rx="9.0" ry="10.1" transform="rotate(35 244.7 953.8)" fill="url(#h381)" stroke="#6b4a12" stroke-opacity=".55" stroke-width=".7"/><ellipse cx="243.1" cy="954.9" rx="9.6" ry="10.7" transform="rotate(35 243.1 954.9)" fill="url(#h381)" stroke="#6b4a12" stroke-opacity=".55" stroke-width=".7"/><ellipse cx="241.4" cy="956.1" rx="9.0" ry="10.1" transform="rotate(35 241.4 956.1)" fill="url(#h381)" stroke="#6b4a12" stroke-opacity=".55" stroke-width=".7"/><ellipse cx="239.8" cy="957.2" rx="9.6" ry="10.7" transform="rotate(35 239.8 957.2)" fill="url(#h381)" stroke="#6b4a12" stroke-opacity=".55" stroke-width=".7"/><ellipse cx="238.1" cy="958.4" rx="9.0" ry="10.1" transform="rotate(35 238.1 958.4)" fill="url(#h381)" stroke="#6b4a12" stroke-opacity=".55" stroke-width=".7"/><ellipse cx="236.5" cy="959.5" rx="9.6" ry="10.7" transform="rotate(35 236.5 959.5)" fill="url(#h381)" stroke="#6b4a12" stroke-opacity=".55" stroke-width=".7"/><g transform="translate(236.5 959.5)"><ellipse cx="0" cy="0" rx="9.6" ry="10.7" transform="rotate(35)" fill="#eccb78" stroke="#a87a28" stroke-width=".8"/><ellipse cx="0" cy="0" rx="7.8" ry="8.9" transform="rotate(35)" fill="#f7e4aa"/><ellipse cx="0.3" cy="0.2" rx="5.8" ry="6.9" transform="rotate(35)" fill="#efe2d2"/><ellipse cx="0.3" cy="0.2" rx="2" ry="2.4" transform="rotate(35)" fill="#c9a75e"/></g>
<polygon points="236.7,975.0 329.3,1007.3 328.5,1040.5 308.3,1055.5 226.0,1021.7 225.0,990.0" fill="#2fae58" />
<polygon points="236.7,975.0 329.3,1007.3 309.0,1021.5 225.0,990.0" fill="#3ecb6b" />
<polygon points="309.0,1021.5 329.3,1007.3 328.5,1040.5 308.3,1055.5" fill="#259549" />
<polygon points="225.0,990.0 309.0,1021.5 308.3,1055.5 226.0,1021.7" fill="#2aa653" />
<path d="M228.5 1000.5l8 3v14.5l-8 -3z" fill="#157a38"/>
<ellipse cx="239.0" cy="986.0" rx="3.6" ry="2.2" fill="#1b5c55" transform="rotate(20 239.0 986.0)"/>
<path d="M239.9 1004.9l8 3v14.5l-8 -3z" fill="#157a38"/>
<ellipse cx="250.4" cy="990.4" rx="3.6" ry="2.2" fill="#1b5c55" transform="rotate(20 250.4 990.4)"/>
<path d="M251.3 1009.2l8 3v14.5l-8 -3z" fill="#157a38"/>
<ellipse cx="261.8" cy="994.7" rx="3.6" ry="2.2" fill="#1b5c55" transform="rotate(20 261.8 994.7)"/>
<path d="M262.7 1013.5l8 3v14.5l-8 -3z" fill="#157a38"/>
<ellipse cx="273.2" cy="999.0" rx="3.6" ry="2.2" fill="#1b5c55" transform="rotate(20 273.2 999.0)"/>
<path d="M274.1 1017.9l8 3v14.5l-8 -3z" fill="#157a38"/>
<ellipse cx="284.6" cy="1003.4" rx="3.6" ry="2.2" fill="#1b5c55" transform="rotate(20 284.6 1003.4)"/>
<path d="M285.5 1022.2l8 3v14.5l-8 -3z" fill="#157a38"/>
<ellipse cx="296.0" cy="1007.8" rx="3.6" ry="2.2" fill="#1b5c55" transform="rotate(20 296.0 1007.8)"/>
<path d="M296.9 1026.6l8 3v14.5l-8 -3z" fill="#157a38"/>
<ellipse cx="307.4" cy="1012.1" rx="3.6" ry="2.2" fill="#1b5c55" transform="rotate(20 307.4 1012.1)"/>
<ellipse cx="307.8" cy="977.2" rx="12" ry="13.5" fill="#0f1533" transform="rotate(35 307.8 977.2)"/><linearGradient id="h400" gradientUnits="objectBoundingBox" x1="0.2" y1="0" x2="0.8" y2="1"><stop offset="0" stop-color="#c9992f"/><stop offset=".3" stop-color="#f9e5a0"/><stop offset=".6" stop-color="#d2a040"/><stop offset=".85" stop-color="#8a6a20"/><stop offset="1" stop-color="#6f7a28"/></linearGradient><ellipse cx="306.8" cy="977.7" rx="9.0" ry="10.1" transform="rotate(35 306.8 977.7)" fill="url(#h400)" stroke="#6b4a12" stroke-opacity=".55" stroke-width=".7"/><ellipse cx="305.2" cy="978.8" rx="9.6" ry="10.7" transform="rotate(35 305.2 978.8)" fill="url(#h400)" stroke="#6b4a12" stroke-opacity=".55" stroke-width=".7"/><ellipse cx="303.5" cy="980.0" rx="9.0" ry="10.1" transform="rotate(35 303.5 980.0)" fill="url(#h400)" stroke="#6b4a12" stroke-opacity=".55" stroke-width=".7"/><ellipse cx="301.9" cy="981.1" rx="9.6" ry="10.7" transform="rotate(35 301.9 981.1)" fill="url(#h400)" stroke="#6b4a12" stroke-opacity=".55" stroke-width=".7"/><ellipse cx="300.2" cy="982.3" rx="9.0" ry="10.1" transform="rotate(35 300.2 982.3)" fill="url(#h400)" stroke="#6b4a12" stroke-opacity=".55" stroke-width=".7"/><ellipse cx="298.6" cy="983.4" rx="9.6" ry="10.7" transform="rotate(35 298.6 983.4)" fill="url(#h400)" stroke="#6b4a12" stroke-opacity=".55" stroke-width=".7"/><ellipse cx="296.9" cy="984.6" rx="9.0" ry="10.1" transform="rotate(35 296.9 984.6)" fill="url(#h400)" stroke="#6b4a12" stroke-opacity=".55" stroke-width=".7"/><ellipse cx="295.3" cy="985.7" rx="9.6" ry="10.7" transform="rotate(35 295.3 985.7)" fill="url(#h400)" stroke="#6b4a12" stroke-opacity=".55" stroke-width=".7"/><g transform="translate(295.3 985.7)"><ellipse cx="0" cy="0" rx="9.6" ry="10.7" transform="rotate(35)" fill="#eccb78" stroke="#a87a28" stroke-width=".8"/><ellipse cx="0" cy="0" rx="7.8" ry="8.9" transform="rotate(35)" fill="#f7e4aa"/><ellipse cx="0.3" cy="0.2" rx="5.8" ry="6.9" transform="rotate(35)" fill="#efe2d2"/><ellipse cx="0.3" cy="0.2" rx="2" ry="2.4" transform="rotate(35)" fill="#c9a75e"/></g>
<ellipse cx="369.2" cy="1003.2" rx="12" ry="13.5" fill="#0f1533" transform="rotate(35 369.2 1003.2)"/><linearGradient id="h401" gradientUnits="objectBoundingBox" x1="0.2" y1="0" x2="0.8" y2="1"><stop offset="0" stop-color="#c9992f"/><stop offset=".3" stop-color="#f9e5a0"/><stop offset=".6" stop-color="#d2a040"/><stop offset=".85" stop-color="#8a6a20"/><stop offset="1" stop-color="#6f7a28"/></linearGradient><ellipse cx="368.2" cy="1003.7" rx="9.0" ry="10.1" transform="rotate(35 368.2 1003.7)" fill="url(#h401)" stroke="#6b4a12" stroke-opacity=".55" stroke-width=".7"/><ellipse cx="366.6" cy="1004.8" rx="9.6" ry="10.7" transform="rotate(35 366.6 1004.8)" fill="url(#h401)" stroke="#6b4a12" stroke-opacity=".55" stroke-width=".7"/><ellipse cx="364.9" cy="1006.0" rx="9.0" ry="10.1" transform="rotate(35 364.9 1006.0)" fill="url(#h401)" stroke="#6b4a12" stroke-opacity=".55" stroke-width=".7"/><ellipse cx="363.3" cy="1007.1" rx="9.6" ry="10.7" transform="rotate(35 363.3 1007.1)" fill="url(#h401)" stroke="#6b4a12" stroke-opacity=".55" stroke-width=".7"/><ellipse cx="361.6" cy="1008.3" rx="9.0" ry="10.1" transform="rotate(35 361.6 1008.3)" fill="url(#h401)" stroke="#6b4a12" stroke-opacity=".55" stroke-width=".7"/><ellipse cx="360.0" cy="1009.4" rx="9.6" ry="10.7" transform="rotate(35 360.0 1009.4)" fill="url(#h401)" stroke="#6b4a12" stroke-opacity=".55" stroke-width=".7"/><ellipse cx="358.3" cy="1010.6" rx="9.0" ry="10.1" transform="rotate(35 358.3 1010.6)" fill="url(#h401)" stroke="#6b4a12" stroke-opacity=".55" stroke-width=".7"/><ellipse cx="356.7" cy="1011.7" rx="9.6" ry="10.7" transform="rotate(35 356.7 1011.7)" fill="url(#h401)" stroke="#6b4a12" stroke-opacity=".55" stroke-width=".7"/><g transform="translate(356.7 1011.7)"><ellipse cx="0" cy="0" rx="9.6" ry="10.7" transform="rotate(35)" fill="#eccb78" stroke="#a87a28" stroke-width=".8"/><ellipse cx="0" cy="0" rx="7.8" ry="8.9" transform="rotate(35)" fill="#f7e4aa"/><ellipse cx="0.3" cy="0.2" rx="5.8" ry="6.9" transform="rotate(35)" fill="#efe2d2"/><ellipse cx="0.3" cy="0.2" rx="2" ry="2.4" transform="rotate(35)" fill="#c9a75e"/></g>
<ellipse cx="430.8" cy="1027.0" rx="12" ry="13.5" fill="#0f1533" transform="rotate(35 430.8 1027.0)"/><linearGradient id="h402" gradientUnits="objectBoundingBox" x1="0.2" y1="0" x2="0.8" y2="1"><stop offset="0" stop-color="#c9992f"/><stop offset=".3" stop-color="#f9e5a0"/><stop offset=".6" stop-color="#d2a040"/><stop offset=".85" stop-color="#8a6a20"/><stop offset="1" stop-color="#6f7a28"/></linearGradient><ellipse cx="429.8" cy="1027.5" rx="9.0" ry="10.1" transform="rotate(35 429.8 1027.5)" fill="url(#h402)" stroke="#6b4a12" stroke-opacity=".55" stroke-width=".7"/><ellipse cx="428.2" cy="1028.6" rx="9.6" ry="10.7" transform="rotate(35 428.2 1028.6)" fill="url(#h402)" stroke="#6b4a12" stroke-opacity=".55" stroke-width=".7"/><ellipse cx="426.5" cy="1029.8" rx="9.0" ry="10.1" transform="rotate(35 426.5 1029.8)" fill="url(#h402)" stroke="#6b4a12" stroke-opacity=".55" stroke-width=".7"/><ellipse cx="424.9" cy="1030.9" rx="9.6" ry="10.7" transform="rotate(35 424.9 1030.9)" fill="url(#h402)" stroke="#6b4a12" stroke-opacity=".55" stroke-width=".7"/><ellipse cx="423.2" cy="1032.1" rx="9.0" ry="10.1" transform="rotate(35 423.2 1032.1)" fill="url(#h402)" stroke="#6b4a12" stroke-opacity=".55" stroke-width=".7"/><ellipse cx="421.6" cy="1033.2" rx="9.6" ry="10.7" transform="rotate(35 421.6 1033.2)" fill="url(#h402)" stroke="#6b4a12" stroke-opacity=".55" stroke-width=".7"/><ellipse cx="419.9" cy="1034.4" rx="9.0" ry="10.1" transform="rotate(35 419.9 1034.4)" fill="url(#h402)" stroke="#6b4a12" stroke-opacity=".55" stroke-width=".7"/><ellipse cx="418.3" cy="1035.5" rx="9.6" ry="10.7" transform="rotate(35 418.3 1035.5)" fill="url(#h402)" stroke="#6b4a12" stroke-opacity=".55" stroke-width=".7"/><g transform="translate(418.3 1035.5)"><ellipse cx="0" cy="0" rx="9.6" ry="10.7" transform="rotate(35)" fill="#eccb78" stroke="#a87a28" stroke-width=".8"/><ellipse cx="0" cy="0" rx="7.8" ry="8.9" transform="rotate(35)" fill="#f7e4aa"/><ellipse cx="0.3" cy="0.2" rx="5.8" ry="6.9" transform="rotate(35)" fill="#efe2d2"/><ellipse cx="0.3" cy="0.2" rx="2" ry="2.4" transform="rotate(35)" fill="#c9a75e"/></g>
<path d="M341 1031.5l34 13.2" stroke="#0d1028" stroke-width="5.5" stroke-linecap="round"/>
<path d="M366 1045.5l16 6.2" stroke="#0d1028" stroke-width="7" stroke-linecap="round"/>
<circle cx="424" cy="1062.5" r="4.2" fill="#11163a"/>
<text transform="matrix(1 0.40 0 1 266 969.5)" x="0.2" y="0" font-size="7.4" fill="#e9edf9" textLength="18.5" lengthAdjust="spacingAndGlyphs">WIFI2</text>
<text transform="matrix(1 0.40 0 1 327 1000.5)" x="0.2" y="0" font-size="7.4" fill="#e9edf9" textLength="18.4" lengthAdjust="spacingAndGlyphs">WIFI1</text>
<text transform="matrix(1 0.40 0 1 388 1032.5)" x="0.1" y="0" font-size="7.4" fill="#e9edf9" textLength="12.7" lengthAdjust="spacingAndGlyphs">4G1</text>
<text transform="matrix(1 0.40 0 1 360 1030)" x="0.3" y="0" font-size="7.4" fill="#e9edf9" textLength="15.9" lengthAdjust="spacingAndGlyphs">SIM1</text>
<text transform="matrix(1 0.40 0 1 360 1049)" x="0.3" y="0" font-size="7.4" fill="#e9edf9" textLength="16" lengthAdjust="spacingAndGlyphs">SIM2</text>
<text transform="matrix(1 0.40 0 1 435 1045)" x="0.4" y="0" font-size="7.4" fill="#e9edf9" textLength="21.3" lengthAdjust="spacingAndGlyphs">GNSS/</text>
<text transform="matrix(1 0.40 0 1 443 1058)" x="0.1" y="0" font-size="7.4" fill="#e9edf9" textLength="12.8" lengthAdjust="spacingAndGlyphs">4G2</text>
<text transform="matrix(0.92 0.40 0 1 410 1071)" x="0.7" y="0" font-size="7" fill="#e9edf9" textLength="21.4" lengthAdjust="spacingAndGlyphs">Reload</text>
<path d="M345 1023.5l6 -1.5l5 4l-6.5 1.5zM345 1041.5l6 -1.5l5 4l-6.5 1.5z" fill="none" stroke="#e9edf9" stroke-width=".8"/>
<path d="M164 985H295M233.6 985V958M106.7 1116V1009.3H238.3M270 1116V1020.7M376.8 1116V1048.4M329.9 1169V1080.5H353.3V1011M418.7 1169V1060.4M435.7 1220.5V1028.3M515 1169V1052.9M698 960H644M698 1010.3H579M698 1036.5H540" stroke="#e8510f" stroke-width="1.4" fill="none"/>
<path d="M226 990.5L250.5 999.5V1031.5L226 1021.7Z M250.5 999.5L309 1021.5L308.3 1055.5L250.5 1031.5" stroke="#e8510f" stroke-width="1.4" fill="none" stroke-width="1.2"/>
<circle cx="295" cy="985" r="3.6" fill="#e8510f"/>
<circle cx="233.8" cy="957.8" r="3.6" fill="#e8510f"/>
<circle cx="238.3" cy="1009.3" r="3.6" fill="#e8510f"/>
<circle cx="270" cy="1020.7" r="3.6" fill="#e8510f"/>
<circle cx="376.8" cy="1048.4" r="3.6" fill="#e8510f"/>
<circle cx="353.3" cy="1011" r="3.6" fill="#e8510f"/>
<circle cx="418.7" cy="1060.4" r="3.6" fill="#e8510f"/>
<circle cx="435.7" cy="1028.3" r="3.6" fill="#e8510f"/>
<circle cx="515" cy="1052.9" r="3.6" fill="#e8510f"/>
<circle cx="644" cy="960" r="3.6" fill="#e8510f"/>
<circle cx="579" cy="1010.3" r="3.6" fill="#e8510f"/>
<circle cx="540" cy="1036.5" r="3.6" fill="#e8510f"/>
<rect x="62.7" y="970.5" width="102.2" height="30.0" rx="5.5" fill="#e8510f"/>
<text x="113.3" y="990.7" text-anchor="middle" font-size="14" font-weight="bold" fill="#fff" textLength="80" lengthAdjust="spacingAndGlyphs">WiFi天线接口</text>
<rect x="67.5" y="1116.2" width="76.7" height="29.3" rx="5.5" fill="#e8510f"/>
<text x="106.3" y="1136" text-anchor="middle" font-size="14" font-weight="bold" fill="#fff" textLength="55" lengthAdjust="spacingAndGlyphs">电源端子</text>
<rect x="169.7" y="1116.2" width="146.5" height="29.3" rx="5.5" fill="#e8510f"/>
<text x="243.3" y="1136" text-anchor="middle" font-size="14" font-weight="bold" fill="#fff" textLength="128" lengthAdjust="spacingAndGlyphs">RS232、RS485端子</text>
<rect x="342" y="1116.2" width="68.0" height="29.3" rx="5.5" fill="#e8510f"/>
<text x="376.1" y="1136" text-anchor="middle" font-size="14" font-weight="bold" fill="#fff" textLength="53" lengthAdjust="spacingAndGlyphs">SIM卡槽</text>
<rect x="258.9" y="1168.9" width="86.9" height="29.4" rx="5.5" fill="#e8510f"/>
<text x="301.8" y="1188.8" text-anchor="middle" font-size="14" font-weight="bold" fill="#fff" textLength="73.6" lengthAdjust="spacingAndGlyphs">4G天线接口</text>
<rect x="356" y="1168.9" width="73.6" height="29.4" rx="5.5" fill="#e8510f"/>
<text x="392.9" y="1188.8" text-anchor="middle" font-size="14.6" font-weight="bold" fill="#fff" textLength="48" lengthAdjust="spacingAndGlyphs">Reload</text>
<rect x="374.1" y="1220.2" width="119.8" height="30.3" rx="5.5" fill="#e8510f"/>
<text x="433.7" y="1240.5" text-anchor="middle" font-size="14.4" font-weight="bold" fill="#fff" textLength="96" lengthAdjust="spacingAndGlyphs">GNSS天线接口</text>
<rect x="478" y="1168.9" width="73.7" height="29.4" rx="5.5" fill="#e8510f"/>
<text x="514.8" y="1188.8" text-anchor="middle" font-size="14" font-weight="bold" fill="#fff" textLength="40" lengthAdjust="spacingAndGlyphs">指示灯</text>
<rect x="698" y="947.2" width="118.0" height="30.0" rx="5.5" fill="#e8510f"/>
<text x="756.9" y="967.4" text-anchor="middle" font-size="14.4" font-weight="bold" fill="#fff" textLength="41" lengthAdjust="spacingAndGlyphs">LAN口</text>
<rect x="698" y="988.8" width="118.0" height="30.0" rx="5.5" fill="#e8510f"/>
<text x="756.4" y="1009" text-anchor="middle" font-size="14.4" font-weight="bold" fill="#fff" textLength="81" lengthAdjust="spacingAndGlyphs">WAN/LAN口</text>
<rect x="698" y="1030" width="118.0" height="29.4" rx="5.5" fill="#e8510f"/>
<text x="756.4" y="1049.9" text-anchor="middle" font-size="14.4" font-weight="bold" fill="#fff" textLength="55" lengthAdjust="spacingAndGlyphs">WAN1口</text>
</svg>
</body></html>
